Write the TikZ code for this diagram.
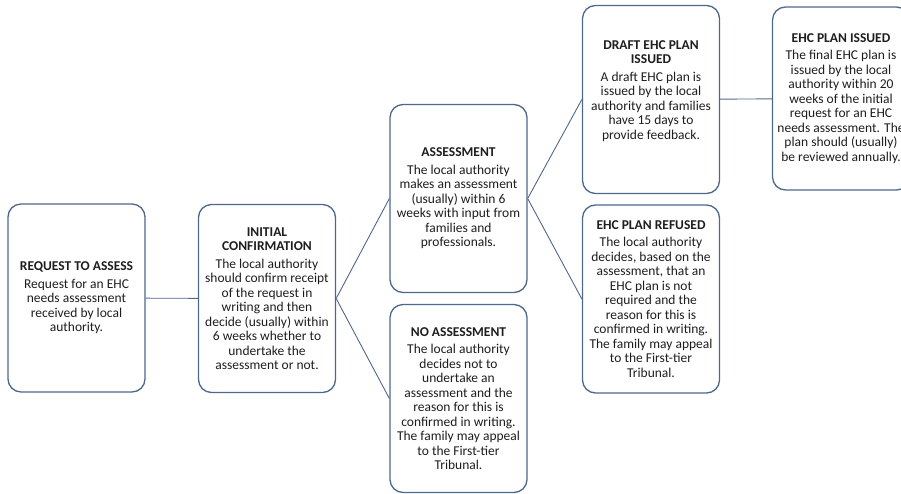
\documentclass[tikz,border=0pt]{standalone}
\usepackage{fontspec}
\setmainfont{Carlito}
\definecolor{boxblue}{RGB}{78,104,140}
\definecolor{inkgray}{RGB}{30,30,30}
\begin{document}
\begin{tikzpicture}[x=1pt,y=-1pt,
  box/.style={draw=boxblue, line width=1.3pt, rounded corners=13pt, fill=white,
    minimum width=137pt, minimum height=188pt, align=center, text=inkgray,
    font=\fontsize{13.5}{14.5}\selectfont, inner sep=0pt},
  link/.style={draw=boxblue, line width=0.9pt}]

\useasboundingbox (0,0) rectangle (901,493);

\node [box] (request) at (76.5,298) {\textbf{REQUEST TO ASSESS}\\[3pt]Request for an EHC\\needs assessment\\received by local\\authority.};
\node [box] (initial) at (267,298.5) {\textbf{INITIAL}\\\textbf{CONFIRMATION}\\[3pt]The local authority\\should confirm receipt\\of the request in\\writing and then\\decide (usually) within\\6 weeks whether to\\undertake the\\assessment or not.};

\node [box] (assess) at (458.5,198.5) {\textbf{ASSESSMENT}\\[3pt]The local authority\\makes an assessment\\(usually) within 6\\weeks with input from\\families and\\professionals.};
\node [box] (noassess) at (458.5,398.5) {\textbf{NO ASSESSMENT}\\[3pt]The local authority\\decides not to\\undertake an\\assessment and the\\reason for this is\\confirmed in writing.\\The family may appeal\\to the First-tier\\Tribunal.};

\node [box] (draft) at (651,99.5) {\textbf{DRAFT EHC PLAN}\\\textbf{ISSUED}\\[3pt]A draft EHC plan is\\issued by the local\\authority and families\\have 15 days to\\provide feedback.\\[5pt]};
\node [box] (refused) at (651,299) {\textbf{EHC PLAN REFUSED}\\[3pt]The local authority\\decides, based on the\\assessment, that an\\EHC plan is not\\required and the\\reason for this is\\confirmed in writing.\\The family may appeal\\to the First-tier\\Tribunal.};

\node [box, minimum height=183pt] (issued) at (841,98.5) {\textbf{EHC PLAN ISSUED}\\[3pt]The final EHC plan is\\issued by the local\\authority within 20\\weeks of the initial\\request for an EHC\\needs assessment. The\\plan should (usually)\\be reviewed annually.};

\draw [link] (request) -- (initial);
\draw [link] (initial.east) -- (assess.west);
\draw [link] (initial.east) -- (noassess.west);
\draw [link] (assess.east) -- (draft.west);
\draw [link] (assess.east) -- (refused.west);
\draw [link] (draft) -- (issued);

\end{tikzpicture}
\end{document}
